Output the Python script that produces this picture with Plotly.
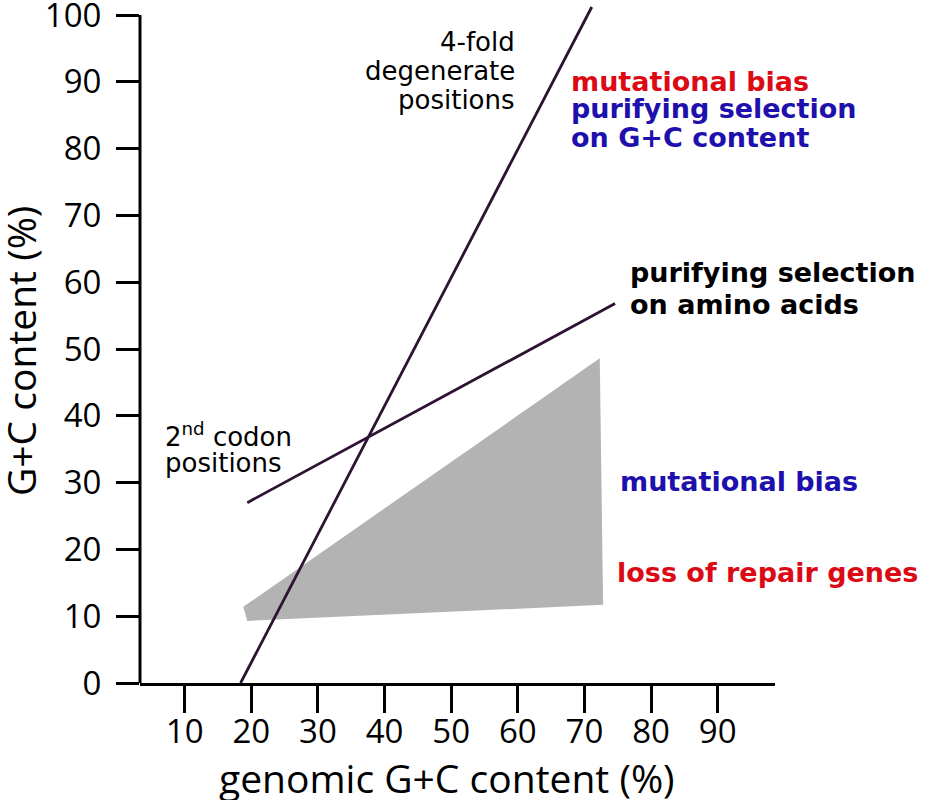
import plotly.graph_objects as go

# values (genomic G+C % vs G+C % at codon positions)
four_fold_x = [18.4, 71.1]
four_fold_y = [0.0, 101.2]

second_pos_x = [19.4, 74.6]
second_pos_y = [27.0, 56.8]

region_x = [18.8, 72.3, 72.8, 19.4]
region_y = [11.4, 48.6, 11.7, 9.3]

x_ticks = [10, 20, 30, 40, 50, 60, 70, 80, 90]
y_ticks = [0, 10, 20, 30, 40, 50, 60, 70, 80, 90, 100]

LINE = "#2e1233"
RED = "#dc0a14"
BLUE = "#1e10ad"

fig = go.Figure()

fig.add_trace(go.Scatter(
    x=region_x, y=region_y, fill="toself", fillcolor="#b3b3b3",
    mode="lines", line=dict(width=0), hoverinfo="skip"
))
fig.add_trace(go.Scatter(
    x=four_fold_x, y=four_fold_y, mode="lines",
    line=dict(color=LINE, width=2.8)
))
fig.add_trace(go.Scatter(
    x=second_pos_x, y=second_pos_y, mode="lines",
    line=dict(color=LINE, width=2.8)
))

# (text, x, y, xanchor, color, bold)
labels = [
    ("4-fold", 59.9, 95.9, "right", "black", False),
    ("degenerate", 59.9, 91.6, "right", "black", False),
    ("positions", 59.9, 87.3, "right", "black", False),
    ("mutational bias", 67.7, 90.0, "left", RED, True),
    ("purifying selection", 67.7, 86.0, "left", BLUE, True),
    ("on G+C content", 67.7, 81.7, "left", BLUE, True),
    ("purifying selection", 76.5, 61.5, "left", "black", True),
    ("on amino acids", 76.5, 56.7, "left", "black", True),
    ("2<sup>nd</sup>\u00a0codon", 6.75, 37.1, "left", "black", False),
    ("positions", 6.75, 32.9, "left", "black", False),
    ("mutational bias", 75.0, 30.1, "left", BLUE, True),
    ("loss of repair genes", 74.6, 16.6, "left", RED, True),
]
for text, x, y, anchor, color, bold in labels:
    fig.add_annotation(
        x=x, y=y, xref="x", yref="y", text=text, showarrow=False,
        xanchor=anchor, yanchor="middle",
        font=dict(family="DejaVu Sans", size=27 if bold else 26,
                  color=color, weight="bold" if bold else "normal"),
    )

fig.add_annotation(
    x=0.484, y=-0.139, xref="paper", yref="paper",
    text="genomic G+C content (%)", showarrow=False,
    xanchor="center", yanchor="middle",
    font=dict(family="Open Sans", size=39, color="black"),
)
fig.add_annotation(
    x=-0.187, y=0.49, xref="paper", yref="paper",
    text="G+C content (%)", showarrow=False, textangle=-90,
    xanchor="center", yanchor="middle",
    font=dict(family="Open Sans", size=39, color="black"),
)

# y axis line only from 0 to 100 (the 4-fold line pokes above it)
fig.add_shape(type="line", xref="paper", yref="y", x0=0, x1=0, y0=0, y1=100,
              line=dict(color="black", width=3))

fig.update_xaxes(
    range=[3.3, 98.6], tickvals=x_ticks, ticks="outside", ticklen=27,
    tickwidth=3, tickcolor="black", showline=True, linewidth=3,
    linecolor="black", showgrid=False, zeroline=False, automargin=False,
    ticklabelstandoff=-10,
    tickfont=dict(family="Open Sans", size=33, color="black"),
)
fig.update_yaxes(
    range=[0, 101.5], tickvals=y_ticks, ticks="outside", ticklen=23,
    tickwidth=3, tickcolor="black", showline=False, showgrid=False,
    zeroline=False, automargin=False, ticklabelstandoff=8,
    ticklabeloverflow="allow",
    tickfont=dict(family="Open Sans", size=33, color="black"),
)
fig.update_layout(
    width=930, height=800, showlegend=False,
    plot_bgcolor="white", paper_bgcolor="white",
    margin=dict(l=140, r=155, t=5, b=117),
)

# the page body has a default 8px margin; drop it so the figure sits at 0,0
fig.write_html("out.html", config={"displayModeBar": False},
               post_script="document.body.style.margin = '0';")
